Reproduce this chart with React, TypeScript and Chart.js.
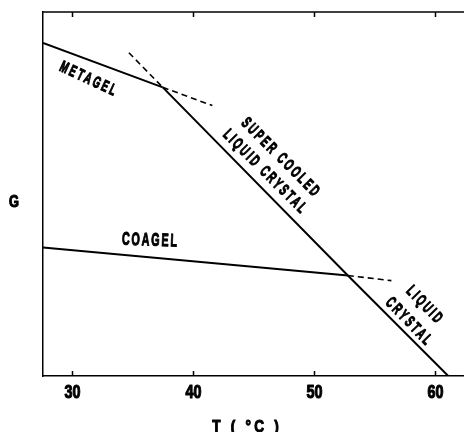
import React, { useEffect, useRef } from "react";
import { Chart, registerables } from "chart.js";

Chart.register(...registerables);

const FONT = "'Liberation Sans', 'DejaVu Sans', sans-serif";

// Temperature (°C) ticks
const xTicks = [30, 40, 50, 60];

// Solid branches (T, G in arbitrary units)
const metagelT = [27.6, 37.5];
const metagelG = [91.5, 79.3];
const liquidCrystalT = [37.5, 52.8, 61.1];
const liquidCrystalG = [79.3, 27.6, 0];
const coagelT = [27.6, 52.8];
const coagelG = [35.3, 27.6];

// Dashed extrapolations
const metagelExtT = [37.5, 41.6];
const metagelExtG = [79.3, 74.3];
const superCooledExtT = [34.7, 37.5];
const superCooledExtG = [88.8, 79.3];
const coagelExtT = [52.8, 56.4];
const coagelExtG = [27.6, 26.2];

// Phase labels anchored in data coordinates
const labelTexts = ["METAGEL", "SUPER COOLED", "LIQUID CRYSTAL", "COAGEL", "LIQUID", "CRYSTAL"];
const labelT = [31.3, 47.2, 45.9, 36.4, 59.1, 57.8];
const labelG = [81.6, 60.1, 56.2, 37.2, 19.6, 15.0];

const xTitle = "T ( °C )";
const yTitle = "G";

const zip = (xs: number[], ys: number[]) => xs.map((x, i) => ({ x, y: ys[i] }));

function condensedText(
  ctx: CanvasRenderingContext2D,
  text: string,
  x: number,
  y: number,
  size: number,
  sx: number,
  angle = 0,
  spacing = 0
) {
  ctx.save();
  ctx.translate(x, y);
  ctx.rotate((angle * Math.PI) / 180);
  ctx.scale(sx, 1);
  ctx.font = `bold ${size}px ${FONT}`;
  (ctx as any).letterSpacing = `${spacing}px`;
  ctx.textAlign = "center";
  ctx.textBaseline = "middle";
  ctx.fillStyle = "#000";
  ctx.strokeStyle = "#000";
  ctx.lineWidth = 1.1;
  ctx.lineJoin = "round";
  ctx.fillText(text, spacing / 2, 0);
  ctx.strokeText(text, spacing / 2, 0);
  ctx.restore();
}

export default function App() {
  const ref = useRef<HTMLCanvasElement | null>(null);

  useEffect(() => {
    document.body.style.margin = "0";
    const canvas = ref.current;
    if (!canvas) return;

    const labelStyle = [
      { angle: 25, size: 16, sx: 0.6, sp: 4 },
      { angle: 45, size: 16, sx: 0.6, sp: 4 },
      { angle: 45, size: 16, sx: 0.6, sp: 4 },
      { angle: 2, size: 18, sx: 0.6, sp: 3 },
      { angle: 46, size: 16, sx: 0.6, sp: 4 },
      { angle: 46, size: 16, sx: 0.6, sp: 4 },
    ];

    const decor = {
      id: "decor",
      afterDraw(chart: any) {
        const { ctx, chartArea, scales } = chart;
        const xs = scales.x;
        const ys = scales.y;
        ctx.save();
        ctx.strokeStyle = "#000";
        ctx.fillStyle = "#000";
        // top frame line
        ctx.lineWidth = 1.5;
        ctx.beginPath();
        ctx.moveTo(chartArea.left, chartArea.top);
        ctx.lineTo(chartArea.right, chartArea.top);
        ctx.stroke();
        // inward tick marks + tick labels
        xTicks.forEach((v) => {
          const px = Math.round(xs.getPixelForValue(v)) + 0.5;
          ctx.lineWidth = 1.5;
          ctx.beginPath();
          ctx.moveTo(px, chartArea.bottom);
          ctx.lineTo(px, chartArea.bottom - 5);
          ctx.moveTo(px, chartArea.top);
          ctx.lineTo(px, chartArea.top + 5);
          ctx.stroke();
          condensedText(ctx, String(v), px, chartArea.bottom + 17, 18, 0.8);
        });
        // axis titles
        condensedText(ctx, xTitle, (chartArea.left + chartArea.right) / 2 - 8, chartArea.bottom + 51, 17, 0.8, 0, 4);
        condensedText(ctx, yTitle, 14, ys.getPixelForValue(47.6), 16, 0.8);
        // phase labels
        labelTexts.forEach((t, i) => {
          const st = labelStyle[i];
          condensedText(
            ctx,
            t,
            xs.getPixelForValue(labelT[i]),
            ys.getPixelForValue(labelG[i]),
            st.size,
            st.sx,
            st.angle,
            st.sp
          );
        });
        ctx.restore();
      },
    };

    const solid = { borderColor: "#000", borderWidth: 2, pointRadius: 0, showLine: true, fill: false };
    const dashed = { ...solid, borderWidth: 1.6, borderDash: [6, 4] };

    const chart = new Chart(canvas, {
      type: "scatter",
      data: {
        datasets: [
          { ...solid, label: "Metagel", data: zip(metagelT, metagelG) },
          { ...solid, label: "Liquid crystal", data: zip(liquidCrystalT, liquidCrystalG) },
          { ...solid, label: "Coagel", data: zip(coagelT, coagelG) },
          { ...dashed, label: "Metagel ext", data: zip(metagelExtT, metagelExtG) },
          { ...dashed, label: "Super cooled ext", data: zip(superCooledExtT, superCooledExtG) },
          { ...dashed, label: "Coagel ext", data: zip(coagelExtT, coagelExtG) },
        ],
      },
      options: {
        responsive: false,
        animation: false,
        layout: { padding: { left: 35, top: 12, right: 0, bottom: 48 } },
        plugins: { legend: { display: false }, tooltip: { enabled: false } },
        scales: {
          x: {
            type: "linear",
            min: 27.6,
            max: 62.4,
            afterBuildTicks: (scale: any) => {
              scale.ticks = xTicks.map((v) => ({ value: v }));
            },
            grid: { display: false },
            border: { display: true, color: "#000", width: 1.5 },
            ticks: { display: false },
          },
          y: {
            type: "linear",
            min: 0,
            max: 100,
            grid: { display: false },
            border: { display: true, color: "#000", width: 1.5 },
            ticks: { display: false },
          },
        },
      },
      plugins: [decor],
    } as any);

    return () => chart.destroy();
  }, []);

  return <canvas ref={ref} width={464} height={432} />;
}
